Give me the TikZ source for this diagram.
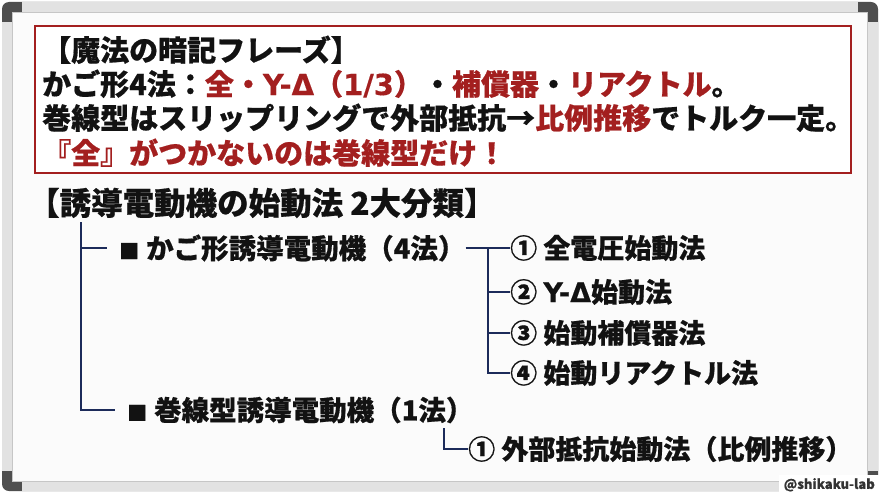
\documentclass[tikz,border=0pt]{standalone}
\usepackage{fontspec}
\setmainfont{Noto Sans CJK JP}[BoldFeatures={FakeBold=0.6}]
\newfontfamily\latwide{DejaVu Sans}[BoldFeatures={FakeBold=0.3}]
\usetikzlibrary{positioning}
\definecolor{phrasered}{HTML}{A31F1F}
\definecolor{treenavy}{HTML}{1C2B5A}
\definecolor{framegray}{HTML}{E2E2E2}
\definecolor{cornergray}{HTML}{4F4F4F}
\definecolor{boardwhite}{HTML}{FBFBFB}
\newcommand{\redtxt}[1]{\textcolor{phrasered}{#1}}
\newcommand{\lat}[1]{{\latwide\bfseries #1}}
\newcommand{\sqmark}{{\fontsize{20pt}{20pt}\selectfont ■}}

\begin{document}
\begin{tikzpicture}[x=1pt,y=-1pt,
phrase/.style={anchor=base west, inner sep=0pt, text=black!93, font=\fontsize{29pt}{34pt}\selectfont\bfseries},
treenode/.style={anchor=west, inner sep=0pt, text=black!93, font=\fontsize{27pt}{32pt}\selectfont\bfseries},
branch/.style={draw=treenavy, line width=2.4pt},
]
\useasboundingbox (0,0) rectangle (880,495);
\fill[white] (0,0) rectangle (880,495);
\fill[cornergray, rounded corners=7pt] (2,2) rectangle (878,491);
\fill[framegray] (22,2) rectangle (858,491);
\fill[framegray] (2,22) rectangle (878,471);
\filldraw[fill=boardwhite, draw=gray!45, line width=0.6pt] (12,12) rectangle (867,481);

\draw[phrasered, line width=2.6pt, fill=white] (35,26) rectangle (851,173);
\node[phrase] (phrase1) at (42,61) {【魔法の暗記フレーズ】};
\node[phrase] (phrase2) at (42,95) {かご形4法：\redtxt{全・\lat{Y-Δ}（\lat{1/3}）}・\redtxt{補償器}・\redtxt{リアクトル}。};
\node[phrase] (phrase3) at (42,129) {巻線型はスリップリングで外部抵抗→\redtxt{比例推移}でトルク一定。};
\node[phrase] (phrase4) at (42,164) {\redtxt{『全』がつかないのは巻線型だけ！}};

\node[treenode, font=\fontsize{31.5pt}{34pt}\selectfont\bfseries] (title) at (28,203) {【誘導電動機の始動法 2大分類】};

\node[treenode, font=\fontsize{27.5pt}{32pt}\selectfont\bfseries] (cage)  at (119,248) {\sqmark\hspace{7pt}かご形誘導電動機（4法）};
\node[treenode, font=\fontsize{27.5pt}{32pt}\selectfont\bfseries] (wound) at (127,410) {\sqmark\hspace{7pt}巻線型誘導電動機（1法）};
\node[treenode] (cage1)  at (510,248) {① 全電圧始動法};
\node[treenode] (cage2)  at (510,292) {② \lat{Y-Δ}始動法};
\node[treenode] (cage3)  at (510,333) {③ 始動補償器法};
\node[treenode] (cage4)  at (510,373) {④ 始動リアクトル法};
\node[treenode] (wound1) at (468,449) {① 外部抵抗始動法（比例推移）};

\coordinate (trunk) at (81,222);
\coordinate (fork) at (488,248);
\coordinate (woundsub) at (444,428);

\draw[branch, shorten >=12pt] (trunk) |- (cage.west);
\draw[branch, shorten >=12pt] (trunk) |- (wound.west);
\draw[branch] (cage.east) -- (cage1.west);
\draw[branch] (fork) |- (cage2.west);
\draw[branch] (fork) |- (cage3.west);
\draw[branch] (fork) |- (cage4.west);
\draw[branch] (woundsub) |- (wound1.west);

\node[fill=white, anchor=south east, minimum height=20pt, inner xsep=5pt, text=black!80, font=\fontsize{13pt}{13pt}\selectfont\bfseries] (credit) at (880,495) {@shikaku-lab};
\end{tikzpicture}
\end{document}
